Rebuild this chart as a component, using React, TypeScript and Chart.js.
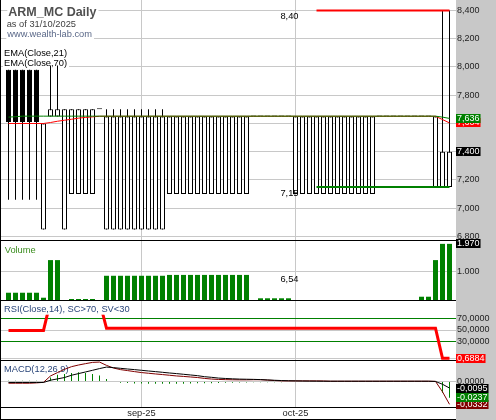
import React, { useEffect, useRef } from 'react';
import { Chart, registerables } from 'chart.js';

Chart.register(...registerables);

// ---------- data ----------
const dates = [
  '05/08','06/08','07/08','08/08','11/08','12/08','13/08','14/08','15/08','18/08','19/08','20/08','21/08','22/08','25/08','26/08','27/08','28/08','29/08',
  '01/09','02/09','03/09','04/09','05/09','08/09','09/09','10/09','11/09','12/09','15/09','16/09','17/09','18/09','19/09','22/09','23/09','24/09','25/09','26/09','29/09','30/09',
  '01/10','02/10','03/10','06/10','07/10','08/10','09/10','10/10','13/10','14/10','15/10','16/10','17/10','20/10','21/10','22/10','23/10','24/10','27/10','28/10','29/10','30/10','31/10',
];
const monthStarts = ['01/09', '01/10'];
const monthLabels = ['sep-25', 'oct-25'];

const open = [
  7.98, 7.98, 7.98, 7.98, 7.98, 6.85, 7.65, 7.65, 6.85, 7.10, 7.10, 7.10, 7.10, 7.70,
  6.85, 6.85, 6.85, 6.85, 6.85, 6.85, 6.85, 6.85, 6.85,
  7.10, 7.10, 7.10, 7.10, 7.10, 7.10, 7.10, 7.10, 7.10, 7.10, 7.10, 7.10,
  7.65, 7.65, 7.65, 7.65, 7.65, 7.65,
  7.10, 7.10, 7.10, 7.10, 7.10, 7.10, 7.10, 7.10, 7.10, 7.10, 7.10, 7.10,
  7.65, 7.65, 7.65, 7.65, 7.65, 7.65, 7.65, 7.65,
  7.15, 7.15, 7.15,
];
const high = [
  7.98, 7.98, 7.98, 7.98, 7.98, 7.60, 8.01, 8.01, 7.70, 7.70, 7.70, 7.70, 7.70, 7.70,
  7.70, 7.70, 7.70, 7.70, 7.70, 7.70, 7.70, 7.70, 7.70,
  7.65, 7.65, 7.65, 7.65, 7.65, 7.65, 7.65, 7.65, 7.65, 7.65, 7.65, 7.65,
  7.65, 7.65, 7.65, 7.65, 7.65, 7.65,
  7.65, 7.65, 7.65, 7.65, 7.65, 7.65, 7.65, 7.65, 7.65, 7.65, 7.65, 7.65,
  7.65, 7.65, 7.65, 7.65, 7.65, 7.65, 7.65, 7.65,
  7.65, 8.40, 8.40,
];
const low = [
  7.06, 7.06, 7.06, 7.06, 7.06, 6.85, 7.65, 7.65, 6.85, 7.10, 7.10, 7.10, 7.10, 7.70,
  6.85, 6.85, 6.85, 6.85, 6.85, 6.85, 6.85, 6.85, 6.85,
  7.10, 7.10, 7.10, 7.10, 7.10, 7.10, 7.10, 7.10, 7.10, 7.10, 7.10, 7.10,
  7.65, 7.65, 7.65, 7.65, 7.65, 7.65,
  7.10, 7.10, 7.10, 7.10, 7.10, 7.10, 7.10, 7.10, 7.10, 7.10, 7.10, 7.10,
  7.65, 7.65, 7.65, 7.65, 7.65, 7.65, 7.65, 7.65,
  7.15, 7.15, 7.15,
];
const close = [
  7.61, 7.61, 7.61, 7.61, 7.61, 7.60, 7.70, 7.70, 7.70, 7.70, 7.70, 7.70, 7.70, 7.70,
  7.65, 7.65, 7.65, 7.65, 7.65, 7.65, 7.65, 7.65, 7.65,
  7.65, 7.65, 7.65, 7.65, 7.65, 7.65, 7.65, 7.65, 7.65, 7.65, 7.65, 7.65,
  7.65, 7.65, 7.65, 7.65, 7.65, 7.65,
  7.65, 7.65, 7.65, 7.65, 7.65, 7.65, 7.65, 7.65, 7.65, 7.65, 7.65, 7.65,
  7.65, 7.65, 7.65, 7.65, 7.65, 7.65, 7.65, 7.65,
  7.65, 7.40, 7.40,
];
const ema21 = [
  7.600, 7.600, 7.600, 7.600, 7.600, 7.600, 7.607, 7.616, 7.623, 7.630, 7.638, 7.643, 7.647,
  7.651, 7.651, 7.651, 7.651, 7.651, 7.651, 7.651, 7.651, 7.651, 7.651, 7.651, 7.651, 7.651,
  7.651, 7.651, 7.651, 7.651, 7.651, 7.651, 7.651, 7.651, 7.651, 7.651, 7.651, 7.651, 7.651,
  7.651, 7.651, 7.651, 7.651, 7.651, 7.651, 7.651, 7.651, 7.651, 7.651, 7.651, 7.651, 7.651,
  7.651, 7.651, 7.651, 7.651, 7.651, 7.651, 7.651, 7.651, 7.651, 7.651,
  7.628, 7.604,
];
const ema70 = [
  7.645, 7.648,
  7.652, 7.652, 7.652, 7.652, 7.652, 7.652, 7.652, 7.652, 7.652, 7.652, 7.652, 7.652, 7.652, 7.652, 7.652,
  7.652, 7.652, 7.652, 7.652, 7.652, 7.652, 7.652, 7.652, 7.652, 7.652, 7.652, 7.652, 7.652, 7.652, 7.652,
  7.652, 7.652, 7.652, 7.652, 7.652, 7.652, 7.652, 7.652, 7.652, 7.652, 7.652, 7.652, 7.652, 7.652, 7.652,
  7.652, 7.652, 7.652, 7.652, 7.652, 7.652, 7.652, 7.652, 7.652, 7.652, 7.652, 7.652, 7.652, 7.652, 7.652,
  7.645, 7.636,
];
const levelStartDate = '06/10';
const resistanceLevel = 8.40;
const supportLevel = 7.15;
const annotationValues = [8.40, 7.15, 6.54];

const volume = [
  255, 255, 255, 255, 255, 80, 1400, 1400, 0, 35, 35, 35, 35, 0,
  850, 850, 850, 850, 850, 850, 850, 850, 850,
  880, 880, 880, 880, 880, 880, 880, 880, 880, 880, 880, 880,
  0, 60, 60, 60, 60, 60,
  0, 0, 0, 0, 0, 0, 0, 0, 0, 0, 0, 0, 0, 0, 0, 0, 0, 0,
  115, 115, 1400, 1970, 1970,
];
const rsi = [
  49.3, 49.3, 49.3, 49.3, 49.3, 49.3,
  100, 100, 100, 100, 100, 100, 100, 100,
  53, 53, 53, 53, 53, 53, 53, 53, 53, 53, 53, 53, 53, 53, 53, 53,
  53, 53, 53, 53, 53, 53, 53, 53, 53, 53, 53, 53, 53, 53, 53, 53,
  53, 53, 53, 53, 53, 53, 53, 53, 53, 53, 53, 53, 53, 53, 53, 53,
  0.70, 0.6884,
];
const macd = [
  -0.0025, -0.0025, -0.0025, -0.0025, -0.0020, -0.0012, 0.0081, 0.0130, 0.0177, 0.0216,
  0.0240, 0.0260, 0.0278, 0.0283, 0.0235, 0.0196, 0.0173, 0.0159, 0.0144, 0.0130,
  0.0120, 0.0110, 0.0101, 0.0091, 0.0081, 0.0074, 0.0066, 0.0058, 0.0045, 0.0036,
  0.0030, 0.0027, 0.0025, 0.0024, 0.0024, 0.0026, 0.0026, 0.0020, 0.0014, 0.0009,
  0.0009, 0.0009, 0.0009, 0.0009, 0.0009, 0.0008, 0.0004, 0.0004, 0.0004, 0.0004,
  0.0004, 0.0004, 0.0004, 0.0004, 0.0004, 0.0004, 0.0004, 0.0004, 0.0004, 0.0004,
  0.0004, 0.0002, -0.0150, -0.0332,
];
const signal = [
  -0.0014, -0.0014, -0.0014, -0.0014, -0.0014, -0.0014, 0.0019, 0.0038, 0.0058, 0.0091,
  0.0115, 0.0139, 0.0163, 0.0188, 0.0210, 0.0202, 0.0192, 0.0182, 0.0173, 0.0163,
  0.0153, 0.0144, 0.0134, 0.0124, 0.0115, 0.0105, 0.0095, 0.0085, 0.0070, 0.0061,
  0.0050, 0.0044, 0.0039, 0.0035, 0.0033, 0.0031, 0.0028, 0.0023, 0.0018, 0.0014,
  0.0011, 0.0009, 0.0007, 0.0006, 0.0005, 0.0004, 0.0004, 0.0004, 0.0004, 0.0004,
  0.0004, 0.0004, 0.0004, 0.0004, 0.0004, 0.0004, 0.0004, 0.0004, 0.0004, 0.0004,
  0.0004, 0.0001, -0.0040, -0.0095,
];
const macdHist = [
  0.0012, 0.0012, 0.0012, 0.0012, 0.0012, 0, 0.0060, 0.0097, 0.0111, 0.0125,
  0.0135, 0.0125, 0.0111, 0.0087, 0.0038, -0.0006, -0.0019, -0.0023, -0.0029, -0.0029,
  -0.0033, -0.0034, -0.0033, -0.0033, -0.0034, -0.0031, -0.0029, -0.0027, -0.0025, -0.0025,
  -0.0022, -0.0019, -0.0017, -0.0015, -0.0013, -0.0012, -0.0011, -0.0010, -0.0010, -0.0009,
  -0.0008, 0, 0, 0, 0, 0, 0, 0, 0, 0,
  0, 0, 0, 0, 0, 0, 0, 0, 0, 0,
  0, 0, -0.0165, -0.0237,
];

const priceTicks = [6.8, 7.0, 7.2, 7.4, 7.6, 7.8, 8.0, 8.2, 8.4];
const volumeTicks = [1000];
const rsiTicks = [0, 30, 50, 70];
const rsiBands = [30, 70];
const macdTicks = [0];

const titleText = 'ARM_MC Daily';
const asOfText = 'as of 31/10/2025';
const siteText = 'www.wealth-lab.com';
const ema21Label = 'EMA(Close,21)';
const ema70Label = 'EMA(Close,70)';
const volumeLabel = 'Volume';
const rsiLabel = 'RSI(Close,14), SC>70, SV<30';
const macdLabel = 'MACD(12,26,9)';

// ---------- styles ----------
const FONT = '"Liberation Sans", Arial, sans-serif';
const GRID = '#c8c8c8';
const AXIS_BG = '#c8c8c8';
const RED = '#ff0000';
const GREEN = '#008000';
const DARKRED = '#800000';
const BLACK = '#000000';
const TEXT = '#1e1e1e';
const NAVY = '#2a467a';
const VOLTXT = '#3a8c1e';

const fmtDec = (v: number, d: number) => v.toFixed(d).replace('.', ',');
const fmtThousands = (v: number) => Math.round(v).toString().replace(/\B(?=(\d{3})+(?!\d))/g, '.');

type Lbl = { text: string; x: number; baseline: number; font: string; color: string; asc: number; desc: number };

function drawLabels(ctx: any, labels: Lbl[]) {
  // backgrounds first, then texts, so descenders are never covered
  labels.forEach((l) => {
    ctx.font = l.font;
    const w = ctx.measureText(l.text).width;
    ctx.fillStyle = '#ffffff';
    ctx.fillRect(l.x - 1, l.baseline - l.asc, w + 3, l.asc + l.desc);
  });
  labels.forEach((l) => {
    ctx.font = l.font;
    ctx.fillStyle = l.color;
    ctx.textAlign = 'left';
    ctx.textBaseline = 'alphabetic';
    ctx.fillText(l.text, l.x, l.baseline);
  });
}

const paneOverlay = {
  id: 'paneOverlay',
  beforeDraw(chart: any) {
    const { ctx, width, height, chartArea } = chart;
    ctx.save();
    ctx.fillStyle = '#ffffff';
    ctx.fillRect(0, 0, width, height);
    ctx.fillStyle = AXIS_BG;
    ctx.fillRect(chartArea.right, 0, width - chartArea.right, height);
    ctx.restore();
  },
  beforeDatasetsDraw(chart: any) {
    const { ctx, chartArea, scales } = chart;
    const l = chartArea.left;
    const small = `9.3px ${FONT}`;
    const pt = scales.yP.top;
    ctx.save();
    drawLabels(ctx, [
      { text: titleText, x: l + 7.3, baseline: pt + 16, font: `bold 12.5px ${FONT}`, color: '#505050', asc: 11, desc: 3 },
      { text: asOfText, x: l + 5.7, baseline: pt + 27, font: small, color: '#404040', asc: 8, desc: 3 },
      { text: siteText, x: l + 6.3, baseline: pt + 37.3, font: small, color: '#5a6888', asc: 8, desc: 3 },
      { text: ema21Label, x: l + 3, baseline: pt + 56, font: small, color: BLACK, asc: 8.5, desc: 2.5 },
      { text: ema70Label, x: l + 3, baseline: pt + 66, font: small, color: BLACK, asc: 8.5, desc: 2.5 },
      { text: volumeLabel, x: l + 3.7, baseline: scales.yV.top + 12.7, font: small, color: VOLTXT, asc: 9, desc: 3 },
      { text: macdLabel, x: l + 3, baseline: scales.yM.top + 11.7, font: small, color: NAVY, asc: 9, desc: 3 },
    ]);
    ctx.restore();
  },
  afterDatasetsDraw(chart: any) {
    const { ctx, chartArea, scales } = chart;
    const l = chartArea.left;
    const small = `9.3px ${FONT}`;
    ctx.save();
    // RSI label box covers the indicator line
    const rt = scales.yR.top;
    ctx.font = small;
    const rw = ctx.measureText(rsiLabel).width;
    ctx.fillStyle = '#ffffff';
    ctx.fillRect(l + 2, rt + 1, rw + 3, 13.7);
    ctx.fillStyle = NAVY;
    ctx.textAlign = 'left';
    ctx.textBaseline = 'alphabetic';
    ctx.fillText(rsiLabel, l + 3, rt + 11.7);
    // high / low annotations
    const xs = scales.x.getPixelForValue(dates.indexOf(levelStartDate)) - 18;
    ctx.fillStyle = BLACK;
    ctx.textAlign = 'right';
    annotationValues.forEach((v) => {
      ctx.fillText(fmtDec(v, 2), xs, scales.yP.getPixelForValue(v) + 8.8);
    });
    ctx.restore();
  },
  afterDraw(chart: any) {
    const { ctx, chartArea, scales, height } = chart;
    ctx.save();
    ctx.fillStyle = BLACK;
    const right = chartArea.right;
    ['yP', 'yV', 'yR', 'yM'].forEach((id) => {
      ctx.fillRect(0, Math.round(scales[id].bottom), right, 1);
    });
    ctx.fillRect(0, height - 1, right, 1);
    ctx.fillRect(0, 0, 1, height);
    // last-value boxes on the axis
    const last = dates.length - 1;
    const boxes = [
      { axis: 'yP', value: ema21[last], color: RED, text: fmtDec(ema21[last], 3) },
      { axis: 'yP', value: ema70[last], color: GREEN, text: fmtDec(ema70[last], 3) },
      { axis: 'yP', value: close[last], color: BLACK, text: fmtDec(close[last], 3) },
      { axis: 'yV', value: volume[last], color: BLACK, text: fmtThousands(volume[last]) },
      { axis: 'yR', value: rsi[last], color: RED, text: fmtDec(rsi[last], 4) },
      { axis: 'yM', value: macd[last], color: DARKRED, text: fmtDec(macd[last], 4) },
      { axis: 'yM', value: macdHist[last], color: GREEN, text: fmtDec(macdHist[last], 4) },
      { axis: 'yM', value: signal[last], color: BLACK, text: fmtDec(signal[last], 4) },
    ];
    ctx.font = `9px ${FONT}`;
    boxes.forEach((b) => {
      const y = scales[b.axis].getPixelForValue(b.value);
      const w = ctx.measureText(b.text).width;
      const top = Math.round(y - 4.5);
      ctx.fillStyle = b.color;
      ctx.fillRect(right, top, w + 2, 9);
      ctx.fillStyle = '#ffffff';
      ctx.textAlign = 'left';
      ctx.textBaseline = 'middle';
      ctx.fillText(b.text, right + 1, top + 5);
    });
    ctx.restore();
  },
};

const yAxisBase = (weight: number, min: number, max: number, ticks: number[], fmt: (v: number) => string, gridColor: any) => ({
  type: 'linear',
  position: 'right',
  stack: 'panes',
  stackWeight: weight,
  min,
  max,
  beginAtZero: false,
  border: { display: false },
  grid: { color: gridColor, drawTicks: false, lineWidth: 1 },
  ticks: {
    autoSkip: false,
    padding: 1,
    color: TEXT,
    font: { family: FONT, size: 9 },
    callback: (v: number) => fmt(v),
  },
  afterBuildTicks: (s: any) => {
    s.ticks = ticks.map((v) => ({ value: v }));
  },
  afterFit: (s: any) => {
    s.width = 40;
    s.paddingTop = 0;
    s.paddingBottom = 0;
  },
});

export default function App() {
  const ref = useRef<HTMLCanvasElement>(null);

  useEffect(() => {
    const idx = dates.map((_, i) => i);
    const levelStart = dates.indexOf(levelStartDate);
    const tickIdx = monthStarts.map((d) => dates.indexOf(d));
    const bodyColors = open.map((o, i) => (close[i] < o ? BLACK : '#ffffff'));

    const chart = new Chart(ref.current as HTMLCanvasElement, {
      type: 'line',
      data: {
        labels: idx,
        datasets: [
          {
            type: 'bar', label: 'wick', data: low.map((l, i) => [l, high[i]]), yAxisID: 'yP',
            backgroundColor: BLACK, borderWidth: 0, barThickness: 1, maxBarThickness: 1,
            grouped: false, inflateAmount: 0, order: 20,
          },
          {
            type: 'bar', label: 'body', data: open.map((o, i) => [o, close[i]]), yAxisID: 'yP',
            backgroundColor: bodyColors, borderColor: BLACK, borderWidth: 1, borderSkipped: false,
            barThickness: 5, maxBarThickness: 5, minBarLength: 1, grouped: false, inflateAmount: 0, order: 19,
          },
          {
            type: 'bar', label: 'Volume', data: volume, yAxisID: 'yV',
            backgroundColor: GREEN, borderWidth: 0, barThickness: 5, maxBarThickness: 5,
            grouped: false, inflateAmount: 0, order: 18,
          },
          {
            type: 'bar', label: 'Histogram', data: macdHist, yAxisID: 'yM',
            backgroundColor: GREEN, borderWidth: 0, barThickness: 1, maxBarThickness: 1,
            grouped: false, inflateAmount: 0, order: 17,
          },
          { type: 'line', label: ema21Label, data: ema21, yAxisID: 'yP', borderColor: RED, borderWidth: 1, pointRadius: 0, tension: 0, order: 10 },
          { type: 'line', label: ema70Label, data: ema70, yAxisID: 'yP', borderColor: GREEN, borderWidth: 1, pointRadius: 0, tension: 0, order: 9 },
          {
            type: 'line', label: 'Resistance', data: idx.map((i) => (i >= levelStart ? resistanceLevel : null)), yAxisID: 'yP',
            borderColor: RED, borderWidth: 2, pointRadius: 0, tension: 0, order: 8,
          },
          {
            type: 'line', label: 'Support', data: idx.map((i) => (i >= levelStart ? supportLevel : null)), yAxisID: 'yP',
            borderColor: GREEN, borderWidth: 2, pointRadius: 0, tension: 0, order: 8,
          },
          { type: 'line', label: 'RSI', data: rsi, yAxisID: 'yR', borderColor: RED, borderWidth: 3, pointRadius: 0, tension: 0, order: 7 },
          { type: 'line', label: 'MACD', data: macd, yAxisID: 'yM', borderColor: DARKRED, borderWidth: 1, pointRadius: 0, tension: 0, order: 6 },
          { type: 'line', label: 'Signal', data: signal, yAxisID: 'yM', borderColor: BLACK, borderWidth: 1, pointRadius: 0, tension: 0, order: 5 },
        ],
      } as any,
      options: {
        animation: false,
        responsive: false,
        devicePixelRatio: 1,
        layout: { padding: { left: 1, right: 0, top: 0, bottom: 0 } },
        plugins: { legend: { display: false }, tooltip: { enabled: false }, title: { display: false } },
        events: [],
        scales: {
          x: {
            type: 'linear',
            min: -1.0714286,
            max: 63.9285714,
            offset: false,
            border: { display: false },
            grid: { color: GRID, drawTicks: false, offset: false },
            ticks: {
              autoSkip: false,
              maxRotation: 0,
              padding: 1,
              color: TEXT,
              font: { family: FONT, size: 9.3 },
              callback: (v: number) => {
                const k = tickIdx.indexOf(v);
                return k >= 0 ? monthLabels[k] : '';
              },
            },
            afterBuildTicks: (s: any) => {
              s.ticks = tickIdx.map((v) => ({ value: v }));
            },
            afterFit: (s: any) => {
              s.height = 13;
              s.paddingLeft = 0;
              s.paddingRight = 0;
            },
          },
          yP: yAxisBase(240, 6.7752, 8.4743, priceTicks, (v) => fmtDec(v, 3), GRID),
          yV: yAxisBase(60, 0, 2105, volumeTicks, (v) => fmtThousands(v), GRID),
          yR: yAxisBase(60, -2.17, 102.17, rsiTicks, (v) => (v === 0 ? '' : fmtDec(v, 4)),
            (c: any) => (c.tick && rsiBands.indexOf(c.tick.value) >= 0 ? GREEN : GRID)),
          yM: yAxisBase(47, -0.0371, 0.0313, macdTicks, (v) => fmtDec(v, 4), GRID),
        } as any,
      } as any,
      plugins: [paneOverlay],
    } as any);
    return () => chart.destroy();
  }, []);

  return (
    <div style={{ position: 'absolute', left: 0, top: 0, width: 496, height: 420 }}>
      <canvas ref={ref} width={496} height={420} style={{ display: 'block', width: 496, height: 420 }} />
    </div>
  );
}
